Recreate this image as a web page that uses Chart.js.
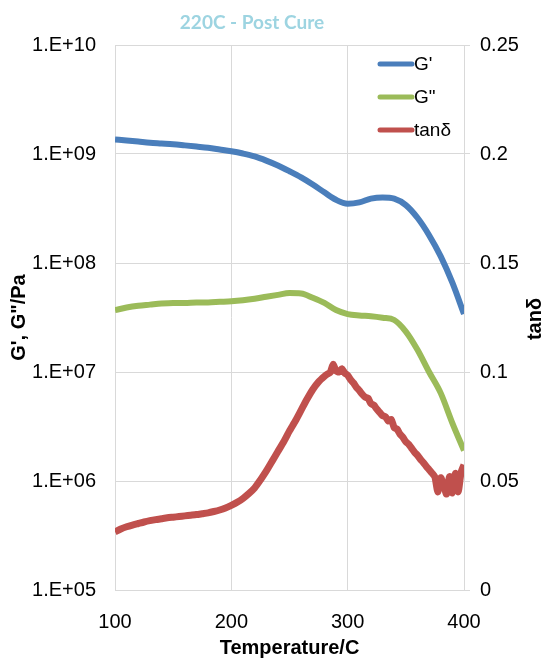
<!DOCTYPE html>
<html>
<head>
<meta charset="utf-8">
<script src="https://cdn.jsdelivr.net/npm/chart.js@4.4.0/dist/chart.umd.min.js"></script>
<style>
  body { margin: 0; background: #fff; }
  #wrap { width: 544px; height: 658px; }
</style>
</head>
<body>
<div id="wrap"><canvas id="dmaChart" width="544" height="658"></canvas></div>
<script>
// G' and G'' sampled every 10 C
const modTemps = [100, 110, 120, 130, 140, 150, 160, 170, 180, 190, 200, 210, 220, 230, 240, 250,
  260, 270, 280, 290, 300, 310, 320, 330, 340, 350, 360, 370, 380, 390, 400];
const gPrime = [1.36e9, 1.33e9, 1.30e9, 1.27e9, 1.25e9, 1.23e9, 1.20e9, 1.17e9, 1.14e9, 1.10e9, 1.06e9,
  1.01e9, 9.5e8, 8.7e8, 7.85e8, 6.95e8, 6.1e8, 5.25e8, 4.45e8, 3.8e8, 3.5e8, 3.6e8, 3.9e8, 4.0e8, 3.9e8,
  3.4e8, 2.6e8, 1.8e8, 1.15e8, 6.6e7, 3.4e7];
const gDouble = [3.7e7, 3.9e7, 4.05e7, 4.15e7, 4.25e7, 4.3e7, 4.3e7, 4.35e7, 4.35e7, 4.4e7, 4.45e7,
  4.55e7, 4.7e7, 4.9e7, 5.1e7, 5.3e7, 5.25e7, 4.8e7, 4.3e7, 3.7e7, 3.4e7, 3.3e7, 3.25e7, 3.15e7, 3.0e7,
  2.35e7, 1.6e7, 1.0e7, 6.4e6, 3.4e6, 1.9e6];

// tan delta, denser where the trace is noisy
const tanTemps = [100, 105, 110, 115, 120, 125, 130, 135, 140, 145, 150, 155, 160, 165, 170, 175, 180,
  185, 190, 195, 200, 205, 210, 215, 220, 225, 230, 235, 240, 245, 250, 255, 260, 265, 270, 275, 280,
  282.5, 285, 287.5, 290, 292.5, 295, 297.5, 300, 302.5, 305, 307.5, 310, 312.5, 315, 317.5, 320,
  322.5, 325, 327.5, 330, 332.5, 335, 337.5, 340, 342.5, 345, 347.5, 350, 352.5, 355, 357.5, 360,
  362.5, 365, 367.5, 370, 372.5, 375, 377.5, 380, 382.5, 385, 387.5, 390, 392.5, 395, 397.5, 400];
const tanDelta = [0.0267, 0.0280, 0.0290, 0.0298, 0.0305, 0.0312, 0.0318, 0.0323, 0.0327, 0.0331,
  0.0334, 0.0337, 0.0340, 0.0343, 0.0346, 0.0350, 0.0354, 0.0360, 0.0367, 0.0376, 0.0388, 0.0402,
  0.0420, 0.0442, 0.0468, 0.0505, 0.0545, 0.0590, 0.0635, 0.0680, 0.0730, 0.0775, 0.0825, 0.0875,
  0.0920, 0.0955, 0.0980, 0.0990, 0.0998, 0.1035, 0.1005, 0.1000, 0.1015, 0.0995, 0.0985, 0.0965,
  0.0950, 0.0930, 0.0915, 0.0898, 0.0885, 0.0880, 0.0855, 0.0848, 0.0830, 0.0815, 0.0800, 0.0795,
  0.0775, 0.0782, 0.0745, 0.0738, 0.0715, 0.0700, 0.0680, 0.0668, 0.0650, 0.0632, 0.0618, 0.0600,
  0.0585, 0.0568, 0.0552, 0.0536, 0.0518, 0.0450, 0.0515, 0.0480, 0.0440, 0.0520, 0.0445, 0.0535,
  0.0450, 0.0540, 0.0575];

const xTicks = [100, 200, 300, 400];
const yTicks = [1e5, 1e6, 1e7, 1e8, 1e9, 1e10];
const yTickLabels = ['1.E+05', '1.E+06', '1.E+07', '1.E+08', '1.E+09', '1.E+10'];
const tanTicks = [0, 0.05, 0.1, 0.15, 0.2, 0.25];
const tanTickLabels = ['0', '0.05', '0.1', '0.15', '0.2', '0.25'];

const seriesNames = ["G'", 'G"', 'tanδ'];
const seriesColors = ['#4a7ebb', '#9bbb59', '#c0504d'];

function toPoints(xs, ys) {
  return xs.map((x, i) => ({ x: x, y: ys[i] }));
}

const tickFont = { family: '"Liberation Sans", Arial, sans-serif', size: 20 };
const titleFont = { family: '"Liberation Sans", Arial, sans-serif', size: 20, weight: 'bold', lineHeight: 1 };
const gridColor = '#d9d9d9';

const extras = {
  id: 'extras',
  afterDraw(chart) {
    const ctx = chart.ctx;
    ctx.save();
    // chart title
    ctx.fillStyle = '#9dd4e1';
    ctx.font = 'bold 19px Lato, "Open Sans", sans-serif';
    ctx.textAlign = 'center';
    ctx.textBaseline = 'middle';
    ctx.fillText('220C - Post Cure', 252, 23);

    // right axis title, reading bottom to top
    ctx.fillStyle = '#000';
    ctx.font = 'bold 20px "Liberation Sans", Arial, sans-serif';
    ctx.translate(535, 319);
    ctx.rotate(-Math.PI / 2);
    ctx.fillText('tanδ', 0, 0);
    ctx.restore();

    // legend in the top right of the plot
    ctx.save();
    ctx.font = '19px "Liberation Sans", Arial, sans-serif';
    ctx.textBaseline = 'middle';
    ctx.lineCap = 'round';
    ctx.lineWidth = 5;
    seriesNames.forEach((name, i) => {
      const y = 64 + i * 33;
      ctx.strokeStyle = seriesColors[i];
      ctx.beginPath();
      ctx.moveTo(380, y);
      ctx.lineTo(412, y);
      ctx.stroke();
      ctx.fillStyle = '#000';
      ctx.fillText(name, 414, y + 1);
    });
    ctx.restore();
  }
};

new Chart(document.getElementById('dmaChart'), {
  type: 'line',
  data: {
    datasets: [
      {
        label: seriesNames[0],
        data: toPoints(modTemps, gPrime),
        yAxisID: 'y',
        borderColor: seriesColors[0],
        borderWidth: 6,
        cubicInterpolationMode: 'monotone',
        pointRadius: 0
      },
      {
        label: seriesNames[1],
        data: toPoints(modTemps, gDouble),
        yAxisID: 'y',
        borderColor: seriesColors[1],
        borderWidth: 6,
        cubicInterpolationMode: 'monotone',
        pointRadius: 0
      },
      {
        label: seriesNames[2],
        data: toPoints(tanTemps, tanDelta),
        yAxisID: 'y1',
        borderColor: seriesColors[2],
        borderWidth: 7,
        tension: 0.2,
        pointRadius: 0
      }
    ]
  },
  options: {
    responsive: false,
    animation: false,
    layout: { padding: { top: 45, left: 0, right: 0, bottom: 0 } },
    plugins: {
      legend: { display: false },
      title: { display: false },
      tooltip: { enabled: false }
    },
    scales: {
      x: {
        type: 'linear',
        min: 100,
        max: 400,
        afterFit(scale) { scale.height = 68; },
        afterBuildTicks(scale) { scale.ticks = xTicks.map(v => ({ value: v })); },
        ticks: { font: tickFont, color: '#000', padding: 20 },
        grid: { color: gridColor, drawTicks: false },
        border: { color: gridColor },
        title: { display: true, text: 'Temperature/C', font: titleFont, color: '#000', padding: { top: 0, bottom: 0 } }
      },
      y: {
        type: 'logarithmic',
        position: 'left',
        min: 1e5,
        max: 1e10,
        afterFit(scale) { scale.width = 115; },
        afterBuildTicks(scale) { scale.ticks = yTicks.map(v => ({ value: v })); },
        ticks: {
          font: tickFont,
          color: '#000',
          padding: 19,
          callback: (v) => yTickLabels[yTicks.indexOf(v)]
        },
        grid: { color: gridColor, drawTicks: false },
        border: { color: gridColor },
        title: { display: true, text: 'G\', G"/Pa', font: titleFont, color: '#000', padding: { top: 9, bottom: 0 } }
      },
      y1: {
        type: 'linear',
        position: 'right',
        min: 0,
        max: 0.25,
        afterFit(scale) { scale.width = 80; },
        afterBuildTicks(scale) { scale.ticks = tanTicks.map(v => ({ value: v })); },
        ticks: {
          font: tickFont,
          color: '#000',
          padding: 10,
          callback: (v) => tanTickLabels[tanTicks.indexOf(v)]
        },
        grid: { color: gridColor, drawOnChartArea: false, drawTicks: true, tickLength: 6 },
        border: { color: gridColor }
      }
    }
  },
  plugins: [extras]
});
</script>
</body>
</html>
